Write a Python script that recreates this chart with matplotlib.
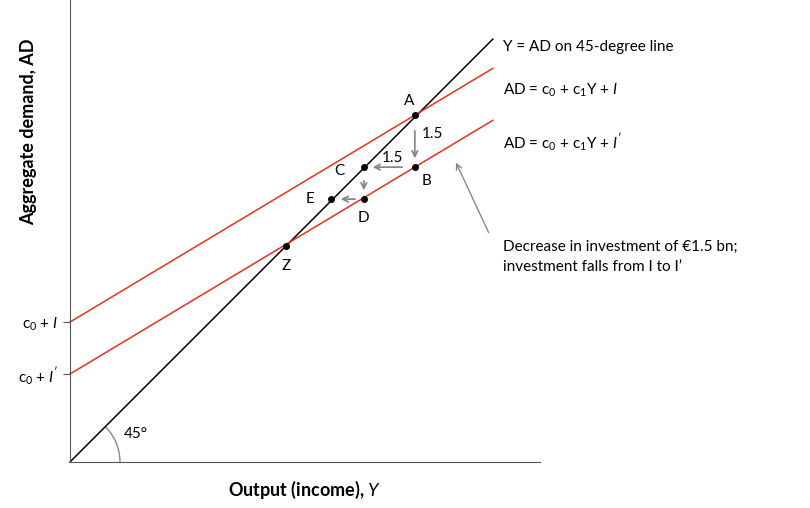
import matplotlib.pyplot as plt
from matplotlib.patches import Arc

plt.rcParams['font.family'] = ['Lato', 'DejaVu Sans']
plt.rcParams['mathtext.fontset'] = 'custom'
plt.rcParams['mathtext.rm'] = 'Lato'
plt.rcParams['mathtext.it'] = 'Lato:italic'
plt.rcParams['mathtext.bf'] = 'Lato:bold'

# model in chart units (slope of AD = 0.6)
c0_I = 140
c0_Ip = 88
c1 = 0.6
x_end = 423
points = {'A': (345, 347), 'B': (345, 295), 'C': (294, 295),
          'D': (294, 263), 'E': (261, 263), 'Z': (216, 216)}

fig = plt.figure(figsize=(8.1, 5.08), dpi=100)
ax = fig.add_axes([0.0864, 0.0906, 0.580, 0.909])
ax.set_xlim(0, 470)
ax.set_ylim(0, 462)
for s in ['top', 'right']:
    ax.spines[s].set_visible(False)
ax.spines['left'].set_color('#555')
ax.spines['bottom'].set_color('#555')
ax.set_xticks([])
ax.set_yticks([c0_Ip, c0_I])
ax.set_yticklabels([r"c$_0$ + $I'$", r"c$_0$ + $I$"], fontsize=11)
ax.tick_params(axis='y', length=5, color='#555')

ax.plot([0, x_end], [0, x_end], color='black', lw=1.1, clip_on=False)
ax.plot([0, x_end], [c0_I, c0_I + c1 * x_end], color='#e8311a', lw=1.1, clip_on=False)
ax.plot([0, x_end], [c0_Ip, c0_Ip + c1 * x_end], color='#e8311a', lw=1.1, clip_on=False)

for k, (x, y) in points.items():
    ax.plot(x, y, 'o', color='black', ms=4, zorder=5)
offs = {'A': (-6, 14), 'B': (12, -14), 'C': (-24, -4), 'D': (0, -19),
        'E': (-21, 0), 'Z': (0, -20)}
for k, (dx, dy) in offs.items():
    x, y = points[k]
    ax.text(x + dx, y + dy, k, fontsize=11, ha='center', va='center')

gray = '#888888'
def arr(x0, y0, x1, y1):
    ax.annotate('', xy=(x1, y1), xytext=(x0, y0),
                arrowprops=dict(arrowstyle='->', color=gray, lw=1.3))
arr(345, 334, 345, 301)
arr(335, 295, 300, 295)
arr(294, 284, 294, 269)
arr(288, 263, 268, 263)
ax.text(352, 328, '1.5', fontsize=11, va='center')
ax.text(312, 304, '1.5', fontsize=11, va='center')

ax.add_patch(Arc((0, 0), 100, 100, theta1=0, theta2=45, color=gray, lw=1))
ax.text(54, 24, '45°', fontsize=11)

ax.text(433, 415, 'Y = AD on 45-degree line', fontsize=11, va='center', clip_on=False)
ax.text(433, 372, r'AD = c$_0$ + c$_1$Y + $I$', fontsize=11, va='center', clip_on=False)
ax.text(433, 320, r"AD = c$_0$ + c$_1$Y + $I'$", fontsize=11, va='center', clip_on=False)
ax.annotate('', xy=(385, 302), xytext=(420, 227),
            arrowprops=dict(arrowstyle='->', color=gray, lw=1), annotation_clip=False)
ax.text(433, 205, 'Decrease in investment of €1.5 bn;\ninvestment falls from I to I’',
        fontsize=11, va='center', linespacing=1.5, clip_on=False)

ax.set_xlabel(r'Output (income), $\mathbf{\it{Y}}$', fontsize=13, fontweight='bold', labelpad=12)
fig.text(0.035, 0.74, 'Aggregate demand, AD', fontsize=13, fontweight='bold',
         rotation=90, ha='center', va='center')
fig.savefig('out.png', dpi=100)
